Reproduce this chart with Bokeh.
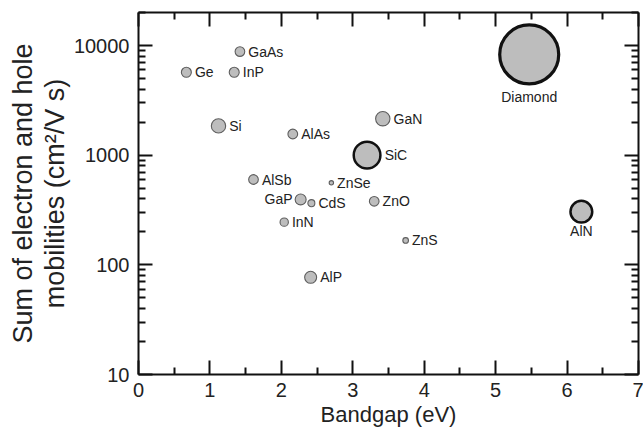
import numpy as np
from bokeh.plotting import figure
from bokeh.models import (FixedTicker, LinearAxis, LogAxis, ColumnDataSource,
                          Range1d, Title)
from bokeh.embed import file_html
from bokeh.resources import INLINE

# ---- data ----
materials = ["Ge", "Si", "GaAs", "InP", "AlAs", "AlSb", "GaP", "CdS", "InN",
             "AlP", "ZnSe", "ZnO", "ZnS", "GaN", "SiC", "Diamond", "AlN"]
bandgap_ev = [0.67, 1.12, 1.42, 1.34, 2.16, 1.61, 2.27, 2.42, 2.04,
              2.41, 2.70, 3.30, 3.74, 3.42, 3.20, 5.47, 6.20]
mobility_sum = [5700, 1850, 8800, 5700, 1560, 600, 395, 365, 245,
                77, 560, 380, 167, 2150, 1000, 8300, 305]
# bubble area ~ thermal conductivity (W/m K)
thermal_cond = [63, 130, 59, 63, 60, 59, 76, 31, 44,
                91, 12, 59, 20, 130, 450, 2200, 300]

x_ticks = [0, 1, 2, 3, 4, 5, 6, 7]
x_minor = [0.5, 1.5, 2.5, 3.5, 4.5, 5.5, 6.5]
y_ticks = [10, 100, 1000, 10000]
y_tick_labels = ["10", "100", "1000", "10000"]

x_title = "Bandgap (eV)"
y_title_lines = ["Sum of electron and hole", "mobilities (cm\u00b2/V s)"]

label_side = {"GaP": "left", "Diamond": "below", "AlN": "below"}

# ---- derived styling ----
sizes = [1.258 * np.sqrt(k) for k in thermal_cond]
lws = [3.2 if s > 40 else (2.5 if s > 18 else 1.1) for s in sizes]
lcols = ["#111111" if s > 18 else "#5e5e5e" for s in sizes]
x_off, y_off, aligns = [], [], []
for m, s, w in zip(materials, sizes, lws):
    r = s / 2 + w / 2
    side = label_side.get(m, "right")
    if side == "right":
        x_off.append(r + 3); y_off.append(0); aligns.append("left")
    elif side == "left":
        x_off.append(-(r + 2)); y_off.append(0); aligns.append("right")
    else:
        x_off.append(0); y_off.append(r * 1.2 + 5); aligns.append("center")

src = ColumnDataSource(dict(x=bandgap_ev, y=mobility_sum, name=materials,
                            size=sizes, lw=lws, lc=lcols,
                            xo=x_off, yo=y_off, al=aligns))

y_minor = [m * 10 ** d for d in range(1, 5) for m in range(2, 10)]

FONT = "Liberation Sans"

p = figure(width=643, height=434, x_range=Range1d(0, 7), y_range=Range1d(10, 20000),
           y_axis_type="log", output_backend="svg", toolbar_location=None,
           min_border_left=138, min_border_right=5, min_border_top=12,
           min_border_bottom=60, x_axis_location=None, y_axis_location=None)
p.grid.visible = False
p.outline_line_color = None
p.background_fill_color = "white"
p.border_fill_color = "white"

xt = FixedTicker(ticks=x_ticks, minor_ticks=x_minor)
yt = FixedTicker(ticks=y_ticks, minor_ticks=y_minor)


def style(ax, labels=True):
    ax.axis_line_width = 2
    ax.axis_line_color = "#111111"
    ax.major_tick_line_width = 2
    ax.minor_tick_line_width = 2
    ax.major_tick_line_color = "#111111"
    ax.minor_tick_line_color = "#111111"
    ax.major_tick_in = 14
    ax.major_tick_out = 0
    ax.minor_tick_in = 7
    ax.minor_tick_out = 0
    ax.major_label_text_font = FONT
    ax.major_label_text_font_size = "20px"
    ax.major_label_text_color = "#222222"
    if not labels:
        ax.major_label_standoff = 0


xb = LinearAxis(ticker=xt)
style(xb)
xb.major_label_standoff = 8
p.add_layout(xb, "below")

xa = LinearAxis(ticker=xt, major_label_overrides={t: "" for t in x_ticks})
style(xa, labels=False)
p.add_layout(xa, "above")

yl = LogAxis(ticker=yt, major_label_overrides=dict(zip(y_ticks, y_tick_labels)))
style(yl)
yl.major_label_standoff = 9
p.add_layout(yl, "left")

yr = LogAxis(ticker=yt, major_label_overrides={t: "" for t in y_ticks})
style(yr, labels=False)
p.add_layout(yr, "right")

# axis titles as side titles so they can be shifted along the frame
p.add_layout(Title(text=x_title, align="center", offset=13, standoff=0,
                   text_font=FONT, text_font_size="22px", text_font_style="normal",
                   text_color="#222222"), "below")
# inner line first (closest to the axis), then the outer line
p.add_layout(Title(text=y_title_lines[1], align="center", offset=-19, standoff=1,
                   text_font=FONT, text_font_size="27px", text_font_style="normal",
                   text_color="#222222"), "left")
p.add_layout(Title(text=y_title_lines[0], align="center", offset=-24, standoff=0,
                   text_font=FONT, text_font_size="27px", text_font_style="normal",
                   text_color="#222222"), "left")

p.scatter("x", "y", source=src, size="size", marker="circle",
          fill_color="#bdbdbd", line_color="lc", line_width="lw")
p.text("x", "y", text="name", source=src, x_offset="xo", y_offset="yo",
       text_align="al", text_baseline="middle", text_font=dict(value=FONT),
       text_font_size="14px", text_color="#222222")

open("out.html", "w").write(file_html(p, INLINE))
